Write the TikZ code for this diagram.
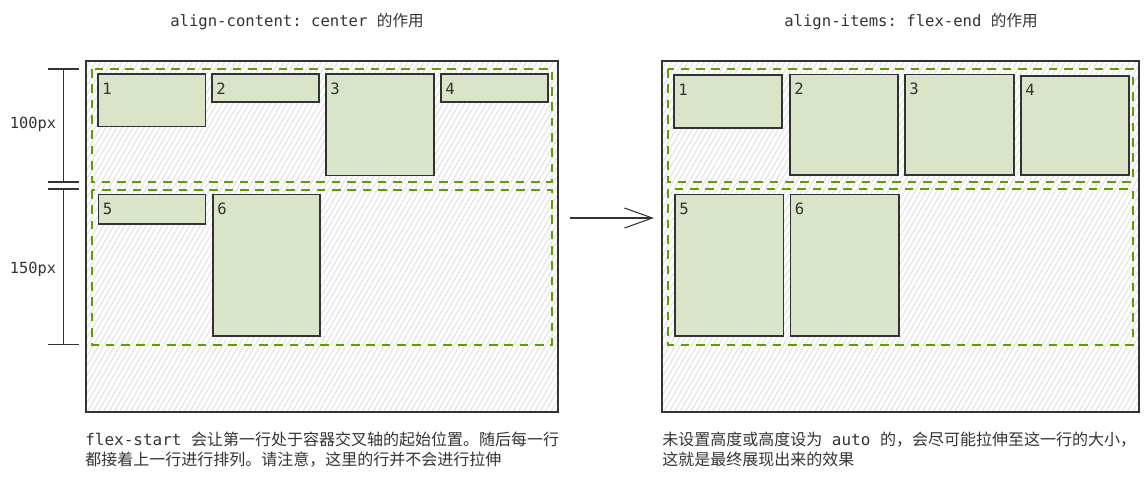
\documentclass[tikz,border=0pt]{standalone}
\usepackage{fontspec}
\setmainfont{Noto Sans CJK SC}
\setmonofont{DejaVu Sans Mono}
\usetikzlibrary{arrows.meta,patterns.meta}
\definecolor{ink}{HTML}{333333}
\definecolor{itemfill}{HTML}{D9E4C8}
\definecolor{lineguide}{HTML}{5F9E00}
\definecolor{hatch}{HTML}{E6E6E6}
\begin{document}
\begin{tikzpicture}[x=0.75pt,y=-0.75pt,
  container/.style={draw=ink, line width=1.1pt,
    pattern={Lines[angle=60,distance=3.5pt,line width=1pt]}, pattern color=hatch},
  flexline/.style={draw=lineguide, line width=1.25pt, dash pattern=on 6.5pt off 5pt},
  itembox/.style={draw=ink, line width=1.1pt, fill=itemfill},
  num/.style={text=ink, font=\fontsize{11.7}{14}\ttfamily, inner sep=0pt, anchor=base west},
  title/.style={text=ink, font=\fontsize{11.7}{14}\selectfont, inner sep=0pt, anchor=base},
  caption/.style={text=ink, font=\fontsize{12}{15}\selectfont, inner sep=0pt, anchor=base west},
  dimlabel/.style={text=ink, font=\fontsize{11.5}{14}\ttfamily, inner sep=0pt, anchor=base},
  dimline/.style={draw=ink, line width=0.8pt},
  arr/.style={draw=ink, line width=0.8pt, -{Straight Barb[length=21pt,width=15pt,line width=0.8pt]}}
]
\useasboundingbox (0,0) rectangle (1144,479);

% ---------- titles ----------
\node[title] (t1) at (297,26.5) {{\ttfamily align-content: center }的作用};
\node[title] (t2) at (911,26.5) {{\ttfamily align-items: flex-end }的作用};

% ---------- left container: align-content: center ----------
\draw[container] (86,61) rectangle (558,412);
\draw[flexline] (92,69) rectangle (552,182);
\draw[flexline] (92,190) rectangle (552,345);

\draw[itembox] (98,74) rectangle (205.5,126.5);
\node[num] (l1) at (102,94) {1};
\draw[itembox] (212,74) rectangle (319,102);
\node[num] (l2) at (216,94) {2};
\draw[itembox] (326,74) rectangle (434,175.5);
\node[num] (l3) at (330,94) {3};
\draw[itembox] (441,74) rectangle (548,102);
\node[num] (l4) at (445,94) {4};
\draw[itembox] (98.5,194.5) rectangle (205.5,224);
\node[num] (l5) at (102.5,214.5) {5};
\draw[itembox] (213,194.5) rectangle (320,336);
\node[num] (l6) at (217,214.5) {6};

% ---------- dimensions of the two lines ----------
\coordinate (d0) at (63.5,69);
\coordinate (d1) at (63.5,182);
\coordinate (d2) at (63.5,189);
\coordinate (d3) at (63.5,344.5);
\draw[dimline] (d0) -- (d1);
\draw[dimline] (d2) -- (d3);
\foreach \yy in {69,182,189,344.5}
  \draw[dimline] (48,\yy) -- (79,\yy);
\node[dimlabel] (h1) at (33,128) {100px};
\node[dimlabel] (h2) at (33,273.3) {150px};

% ---------- arrow ----------
\coordinate (a0) at (570,218);
\coordinate (a1) at (654,218);
\draw[arr] (a0) -- (a1);

% ---------- right container: align-items: flex-end ----------
\draw[container] (662,61) rectangle (1139,412);
\draw[flexline] (668,69) rectangle (1133,182);
\draw[flexline] (668,189) rectangle (1133,345);

\draw[itembox] (674,75) rectangle (782,128);
\node[num] (r1) at (678,95) {1};
\draw[itembox] (790,74.5) rectangle (898,175);
\node[num] (r2) at (794,94.5) {2};
\draw[itembox] (905,74.5) rectangle (1014,175);
\node[num] (r3) at (909,94.5) {3};
\draw[itembox] (1021,76) rectangle (1129,175);
\node[num] (r4) at (1025,95) {4};
\draw[itembox] (675,194.5) rectangle (783.5,336);
\node[num] (r5) at (679,214.5) {5};
\draw[itembox] (790.5,194.5) rectangle (899,336);
\node[num] (r6) at (794.5,214.5) {6};

% ---------- captions ----------
\node[caption] (c1) at (85,445) {{\ttfamily flex-start }会让第一行处于容器交叉轴的起始位置。随后每一行};
\node[caption] (c2) at (85,465) {都接着上一行进行排列。请注意，这里的行并不会进行拉伸};
\node[caption] (c3) at (662,445) {未设置高度或高度设为{\ttfamily{} auto }的，会尽可能拉伸至这一行的大小，};
\node[caption] (c4) at (662,465) {这就是最终展现出来的效果};
\end{tikzpicture}
\end{document}
